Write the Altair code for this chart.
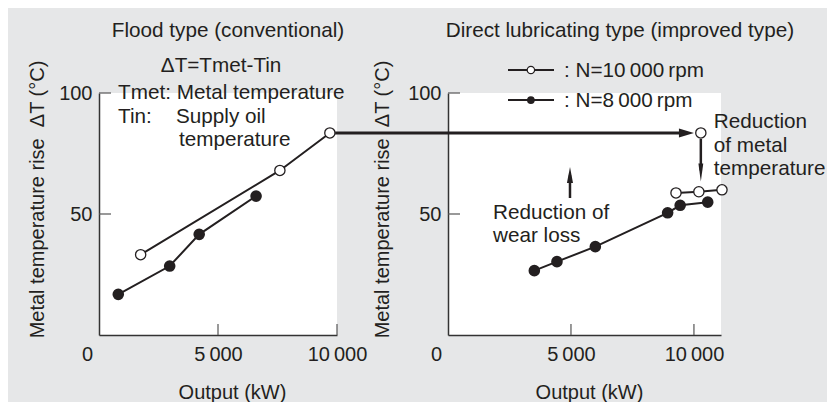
import altair as alt
import pandas as pd

# ---------------- data ----------------
flood_open_x = [1750, 7600, 9700]          # N = 10 000 rpm, flood type
flood_open_y = [33.2, 68.0, 83.5]
flood_filled_x = [810, 2970, 4210, 6600]   # N = 8 000 rpm, flood type
flood_filled_y = [16.8, 28.5, 41.6, 57.4]

direct_open_x = [9270, 10200, 11140]       # N = 10 000 rpm, direct lubricating
direct_open_y = [58.7, 59.2, 60.0]
direct_filled_x = [3510, 4430, 5990, 8930, 9440, 10560]   # N = 8 000 rpm
direct_filled_y = [26.6, 30.3, 36.5, 50.5, 53.6, 54.9]
direct_ref_x = [10280]                     # flood-type maximum carried over
direct_ref_y = [83.5]

x_tick_values = [0, 5000, 10000]
x_tick_labels = ["0", "5\u2009000", "10\u2009000"]
y_tick_values = [50, 100]
flood_x_max = 10000
direct_x_max = 11100

panel_titles = ["Flood type (conventional)", "Direct lubricating type (improved type)"]
series_labels = [": N=10\u2009000\u2009rpm", ": N=8\u2009000\u2009rpm"]
x_title = "Output (kW)"
y_title = "Metal temperature rise\u00a0\u00a0\u0394T (\u00b0C)"

# annotations (anchored in data units)
flood_center_text = [panel_titles[0], "\u0394T=Tmet-Tin"]
flood_center_x = [5420, 5130]
flood_center_y = [123.1, 108.7]
flood_left_text = ["Tmet: Metal temperature", "Tin:", "Supply oil", "temperature"]
flood_left_x = [800, 800, 3235, 3360]
flood_left_y = [97.5, 87.4, 87.4, 78.1]

direct_center_text = [panel_titles[1]]
direct_center_x = [6990]
direct_center_y = [123.1]
direct_left_text = [series_labels[0], series_labels[1], "Reduction", "of metal",
                    "temperature", "Reduction of", "wear loss"]
direct_left_x = [4715, 4715, 10810, 10810, 10810, 1830, 1830]
direct_left_y = [106.6, 94.2, 85.7, 75.8, 66.0, 47.9, 38.5]

legend_x = [2440]
legend_x2 = [4310]
legend_marker_x = [3370]
legend_y = [109.5, 97.1]

# arrows: shafts (x, x2, y, y2) and heads
h_arrow_x, h_arrow_x2, h_arrow_y = [-4590], [9600], [83.5]
h_head_x, h_head_y = [9695], [83.5]
down_arrow_x, down_arrow_y, down_arrow_y2 = [10280], [81.0], [68.0]
down_head_x, down_head_y = [10280], [67.1]
up_arrow_x, up_arrow_y, up_arrow_y2 = [4960], [56.6], [66.0]
up_head_x, up_head_y = [4960], [66.1]

# ---------------- styling ----------------
FONT = "Liberation Sans"
INK = "#231f20"
FS = 20
FS_NOTE = 20.7
H = 242
W_FLOOD = 238
W_DIRECT = 273

label_expr = " : ".join(
    f"datum.value == {v} ? '{l}'" for v, l in zip(x_tick_values, x_tick_labels)
) + " : ''"


def df(**cols):
    return pd.DataFrame(cols)


def x_enc(xmax, title_x):
    return alt.X(
        "x:Q",
        scale=alt.Scale(domain=[0, xmax], nice=False, zero=False),
        axis=alt.Axis(
            values=x_tick_values, labelExpr=label_expr, ticks=False, grid=False,
            labelPadding=9, labelFontSize=FS, labelFont=FONT, labelColor=INK,
            labelOffset={"condition": {"test": "datum.value == 0", "value": -12}, "value": 0},
            labelFlush=False, labelOverlap=False,
            title=x_title, titleX=title_x, titleY=63, titleBaseline="alphabetic",
            titleAlign="center", titleFontSize=FS, titleFont=FONT,
            titleFontWeight="normal", titleColor=INK,
            domainColor="#333333", domainWidth=1.5,
        ),
    )


def y_enc(title_x):
    return alt.Y(
        "y:Q",
        scale=alt.Scale(domain=[0, 100], nice=False, zero=False),
        axis=alt.Axis(
            values=y_tick_values, ticks=False, grid=False, labelPadding=7,
            labelFontSize=FS, labelFont=FONT, labelColor=INK,
            title=y_title, titleX=title_x, titleY=106, titleAngle=270,
            titleBaseline="alphabetic", titleAlign="center", titleFontSize=FS,
            titleFont=FONT, titleFontWeight="normal", titleColor=INK,
            domainColor="#333333", domainWidth=1.5,
        ),
    )


def panel(xmax, width, title_x, ytitle_x, open_x, open_y, filled_x, filled_y,
          center_text, center_x, center_y, left_text, left_x, left_y, extra):
    X = x_enc(xmax, title_x)
    Y = y_enc(ytitle_x)
    open_df = df(x=open_x, y=open_y)
    filled_df = df(x=filled_x, y=filled_y)
    layers = [
        alt.Chart(filled_df).mark_line(color=INK, strokeWidth=2).encode(x=X, y=Y),
        alt.Chart(open_df).mark_line(color=INK, strokeWidth=2).encode(x=X, y=Y),
        alt.Chart(filled_df).mark_point(shape="circle", filled=True, color=INK,
                                        size=135, opacity=1).encode(x=X, y=Y),
        alt.Chart(open_df).mark_point(shape="circle", filled=True, fill="white",
                                      stroke=INK, strokeWidth=1.3, size=105,
                                      opacity=1).encode(x=X, y=Y),
        # inward ticks
        alt.Chart(df(x=[v for v in x_tick_values if v > 0])).mark_rule(
            color="#555555", strokeWidth=1.2).encode(
            x=X, y=alt.value(H), y2=alt.value(H - 11)),
        alt.Chart(df(y=y_tick_values)).mark_rule(
            color="#555555", strokeWidth=1.2).encode(
            y=Y, x=alt.value(0), x2=alt.value(12)),
        alt.Chart(df(x=center_x, y=center_y, t=center_text)).mark_text(
            align="center", baseline="alphabetic", font=FONT, fontSize=FS_NOTE,
            color=INK).encode(x=X, y=Y, text="t:N"),
        alt.Chart(df(x=left_x, y=left_y, t=left_text)).mark_text(
            align="left", baseline="alphabetic", font=FONT, fontSize=FS_NOTE,
            color=INK).encode(x=X, y=Y, text="t:N"),
    ]
    layers += extra(X, Y)
    return alt.layer(*layers).properties(width=width, height=H)


def no_extra(X, Y):
    return []


def direct_extra(X, Y):
    head_h = "M-1,-0.6L1,0L-1,0.6Z"
    head_down = "M-0.27,-1L0.27,-1L0,1Z"
    head_up = "M-0.38,1L0.38,1L0,-1Z"
    return [
        # legend
        alt.Chart(df(x=legend_x * 2, x2=legend_x2 * 2, y=legend_y)).mark_rule(
            color=INK, strokeWidth=2).encode(x=X, x2="x2:Q", y=Y),
        alt.Chart(df(x=legend_marker_x, y=legend_y[1:])).mark_point(
            shape="circle", filled=True, color=INK, size=60, opacity=1).encode(x=X, y=Y),
        alt.Chart(df(x=legend_marker_x, y=legend_y[:1])).mark_point(
            shape="circle", filled=True, fill="white", stroke=INK, strokeWidth=1.2,
            size=55, opacity=1).encode(x=X, y=Y),
        # horizontal arrow from flood-type maximum
        alt.Chart(df(x=h_arrow_x, x2=h_arrow_x2, y=h_arrow_y)).mark_rule(
            color=INK, strokeWidth=3).encode(x=X, x2="x2:Q", y=Y),
        alt.Chart(df(x=h_head_x, y=h_head_y)).mark_point(
            shape=head_h, filled=True, color=INK, size=225, opacity=1).encode(x=X, y=Y),
        # down arrow (reduction of metal temperature)
        alt.Chart(df(x=down_arrow_x, y=down_arrow_y, y2=down_arrow_y2)).mark_rule(
            color=INK, strokeWidth=2.5).encode(x=X, y=Y, y2="y2:Q"),
        alt.Chart(df(x=down_head_x, y=down_head_y)).mark_point(
            shape=head_down, filled=True, color=INK, size=324, opacity=1).encode(x=X, y=Y),
        # up arrow (reduction of wear loss)
        alt.Chart(df(x=up_arrow_x, y=up_arrow_y, y2=up_arrow_y2)).mark_rule(
            color=INK, strokeWidth=2.5).encode(x=X, y=Y, y2="y2:Q"),
        alt.Chart(df(x=up_head_x, y=up_head_y)).mark_point(
            shape=head_up, filled=True, color=INK, size=256, opacity=1).encode(x=X, y=Y),
        # reference open point
        alt.Chart(df(x=direct_ref_x, y=direct_ref_y)).mark_point(
            shape="circle", filled=True, fill="white", stroke=INK, strokeWidth=1.3,
            size=105, opacity=1).encode(x=X, y=Y),
    ]


flood = panel(flood_x_max, W_FLOOD, 133, -56, flood_open_x, flood_open_y,
              flood_filled_x, flood_filled_y, flood_center_text, flood_center_x,
              flood_center_y, flood_left_text, flood_left_x, flood_left_y, no_extra)
direct = panel(direct_x_max, W_DIRECT, 141, -60, direct_open_x, direct_open_y,
               direct_filled_x, direct_filled_y, direct_center_text, direct_center_x,
               direct_center_y, direct_left_text, direct_left_x, direct_left_y,
               direct_extra)

chart = (
    alt.hconcat(flood, direct, spacing=111, bounds="flush")
    .configure(background="#e6e7e8", padding={"left": 18, "top": 12, "right": 1, "bottom": 0})
    .configure_view(stroke=None, fill="white")
)

chart.save("out.html", embed_options={"renderer": "svg", "actions": False})
